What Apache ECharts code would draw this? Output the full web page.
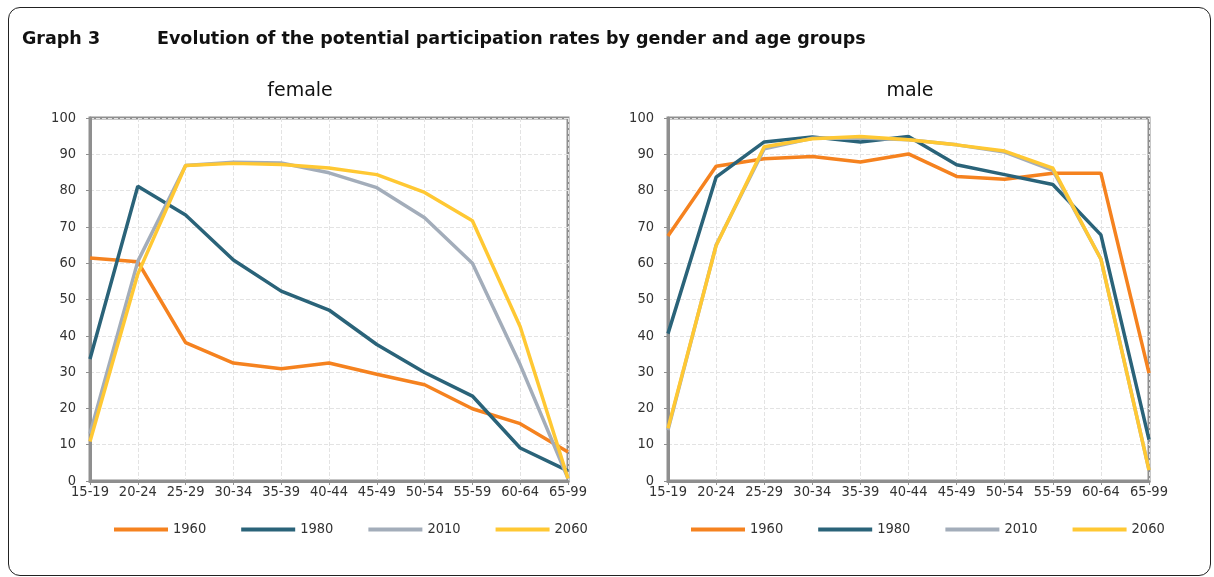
<!DOCTYPE html>
<html>
<head>
<meta charset="utf-8">
<script src="https://cdn.jsdelivr.net/npm/echarts@6/dist/echarts.min.js"></script>
<style>
html,body{margin:0;padding:0;background:#fff;}
#frame{position:absolute;left:8px;top:7px;width:1203px;height:569px;border:1px solid #222;border-radius:12px;box-sizing:border-box;}
#chart{position:absolute;left:0;top:0;width:1214px;height:577px;}
</style>
</head>
<body>
<div id="frame"></div>
<div id="chart"></div>
<script>
const categories = ['15-19','20-24','25-29','30-34','35-39','40-44','45-49','50-54','55-59','60-64','65-99'];
const years = ['1960','1980','2010','2060'];
const yTicks = [0,10,20,30,40,50,60,70,80,90,100];

const female1960 = [61.4, 60.4, 38.1, 32.5, 30.9, 32.5, 29.4, 26.5, 19.9, 15.8, 8.0];
const female1980 = [33.6, 81.2, 73.3, 60.9, 52.3, 47.1, 37.6, 29.9, 23.4, 9.1, 2.8];
const female2010 = [13.0, 60.5, 86.9, 87.8, 87.6, 84.9, 80.8, 72.5, 60.0, 32.0, 0.7];
const female2060 = [10.9, 57.0, 86.9, 87.5, 87.2, 86.2, 84.4, 79.5, 71.7, 42.5, 0.7];

const male1960 = [67.5, 86.7, 88.8, 89.4, 87.9, 90.1, 83.9, 83.1, 84.8, 84.8, 29.7];
const male1980 = [40.6, 83.7, 93.4, 94.8, 93.4, 94.9, 87.1, 84.4, 81.7, 67.8, 11.4];
const male2010 = [14.0, 65.0, 91.5, 94.4, 94.5, 94.0, 92.6, 90.6, 85.6, 61.2, 3.0];
const male2060 = [14.5, 64.8, 92.1, 94.3, 94.9, 94.0, 92.6, 90.9, 86.2, 61.1, 3.0];

const colors = {'1960':'#F5821F','1980':'#2A6379','2010':'#A3ADBA','2060':'#FFC833'};
const FONT = 'DejaVu Sans Condensed';

const chart = echarts.init(document.getElementById('chart'), null, {renderer:'canvas'});

function xAxis(i){
  return {
    type:'category', gridIndex:i, data:categories, boundaryGap:false,
    axisLine:{show:true, lineStyle:{color:'#8f8f8f', width:3}},
    axisTick:{show:true, alignWithLabel:true, length:4, lineStyle:{color:'#8f8f8f', width:1}},
    axisLabel:{interval:0, color:'#333', fontFamily:FONT, fontSize:14.5, margin:4},
    splitLine:{show:true, lineStyle:{color:'#e3e3e3', type:'dashed', width:1}}
  };
}
function yAxis(i){
  return {
    type:'value', gridIndex:i, min:0, max:100, interval:10,
    axisLine:{show:true, lineStyle:{color:'#8f8f8f', width:3}},
    axisTick:{show:true, length:4, lineStyle:{color:'#8f8f8f', width:1}},
    axisLabel:{color:'#333', fontFamily:FONT, fontSize:14.5, margin:14,
      formatter:function(v){ return yTicks.indexOf(v) >= 0 ? String(v) : ''; }},
    splitLine:{show:true, lineStyle:{color:'#e3e3e3', type:'dashed', width:1}}
  };
}
function lines(i, arrs){
  return years.map((y, k) => ({
    name:y, type:'line', xAxisIndex:i, yAxisIndex:i, data:arrs[k],
    showSymbol:false, symbol:'none', smooth:false,
    lineStyle:{color:colors[y], width:3.5}, itemStyle:{color:colors[y]},
    z: 2 + k
  }));
}
function legend(left){
  return {
    left:left, top:522, padding:0, data:years, icon:'rect', itemWidth:54, itemHeight:4, itemGap:35,
    textStyle:{color:'#333', fontFamily:FONT, fontSize:14.5}
  };
}

chart.setOption({
  animation:false,
  title:[
    {text:'Graph 3', left:22, top:30, padding:0, textStyle:{fontFamily:'DejaVu Sans', fontWeight:'bold', fontSize:17.5, color:'#111'}},
    {text:'Evolution of the potential participation rates by gender and age groups', left:157, top:30, padding:0, textStyle:{fontFamily:'DejaVu Sans', fontWeight:'bold', fontSize:17.5, color:'#111'}},
    {text:'female', left:300, textAlign:'center', top:82, padding:0, textStyle:{fontFamily:'DejaVu Sans', fontWeight:'normal', fontSize:19, color:'#111'}},
    {text:'male', left:910, textAlign:'center', top:82, padding:0, textStyle:{fontFamily:'DejaVu Sans', fontWeight:'normal', fontSize:19, color:'#111'}}
  ],
  grid:[
    {left:90, top:118, width:478, height:363, show:true, borderColor:'#8f8f8f', borderWidth:3, backgroundColor:'transparent'},
    {left:668, top:118, width:481, height:363, show:true, borderColor:'#8f8f8f', borderWidth:3, backgroundColor:'transparent'}
  ],
  xAxis:[xAxis(0), xAxis(1)],
  yAxis:[yAxis(0), yAxis(1)],
  legend:[legend(114), legend(691)],
  series:[].concat(
    lines(0, [female1960, female1980, female2010, female2060]),
    lines(1, [male1960, male1980, male2010, male2060])
  )
});
</script>
</body>
</html>
